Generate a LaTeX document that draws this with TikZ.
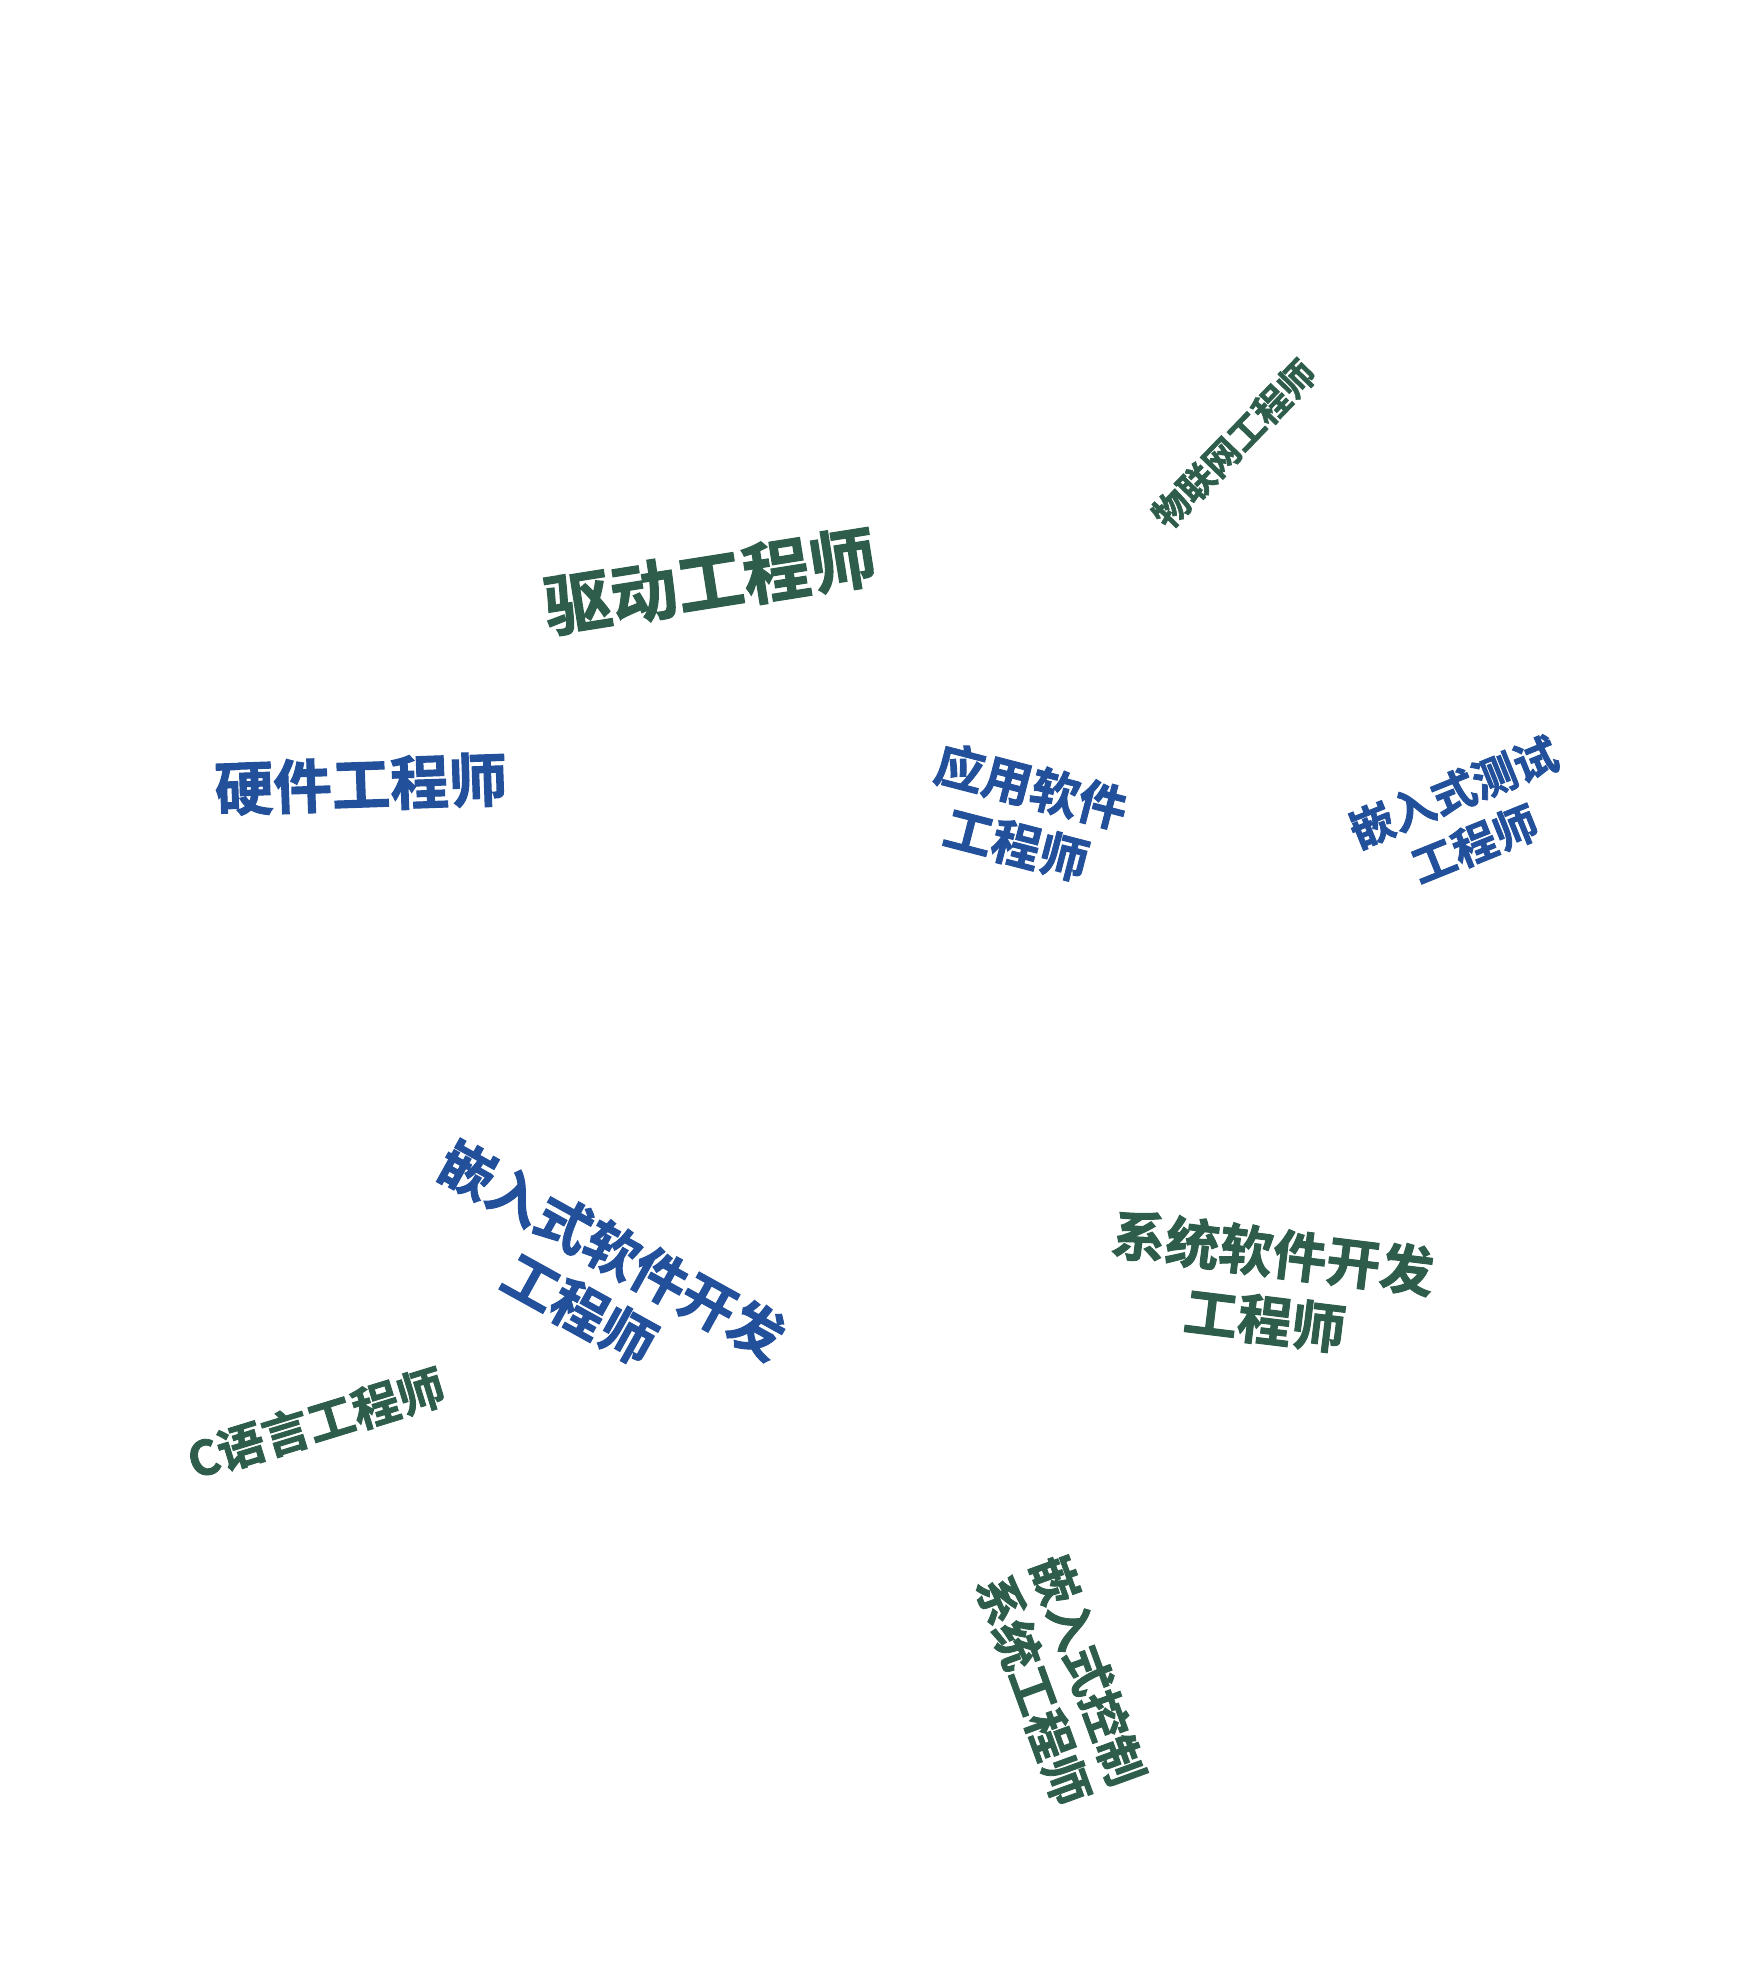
\documentclass[tikz,border=0pt]{standalone}
\usepackage{fontspec}
\newfontfamily\cjk{Noto Sans CJK SC}[BoldFont={Noto Sans CJK SC Bold}, BoldFeatures={FakeBold=1.8}]
\definecolor{wgreen}{RGB}{46,94,75}
\definecolor{wblue}{RGB}{34,80,154}
\tikzset{
  word/.style={inner sep=0pt, align=center},
  wg/.style={word, text=wgreen},
  wb/.style={word, text=wblue}
}
\newcommand{\wsz}[2]{\cjk\bfseries\fontsize{#1}{#2}\selectfont}
\begin{document}
\begin{tikzpicture}[x=1pt,y=-1pt]
\useasboundingbox (0,0) rectangle (1738,1980);
\node[wg, rotate=9, font=\wsz{67}{80}] (qd) at (710,581) {驱动工程师};
\node[wg, rotate=46, font=\wsz{36}{44}] (wl) at (1234,444) {物联网工程师};
\node[wb, rotate=2, font=\wsz{58.5}{70}] (yj) at (361,784) {硬件工程师};
\node[wb, rotate=-14.5, font=\wsz{49}{60}] (yy) at (1024,815) {应用软件\\工程师};
\node[wb, rotate=22, font=\wsz{44}{56}] (cs) at (1464,818) {嵌入式测试\\工程师};
\node[wb, rotate=-29, font=\wsz{55}{67.5}] (rj) at (596,1279) {嵌入式软件开发\\工程师};
\node[wg, rotate=-7, font=\wsz{54}{67.5}] (xt) at (1269,1286) {系统软件开发\\工程师};
\node[wg, rotate=17, font=\wsz{47}{56}] (cy) at (316,1423) {C语言工程师};
\node[wg, rotate=-70, font=\wsz{48}{58}] (kz) at (1061,1680) {嵌入式控制\\系统工程师};
\end{tikzpicture}
\end{document}
